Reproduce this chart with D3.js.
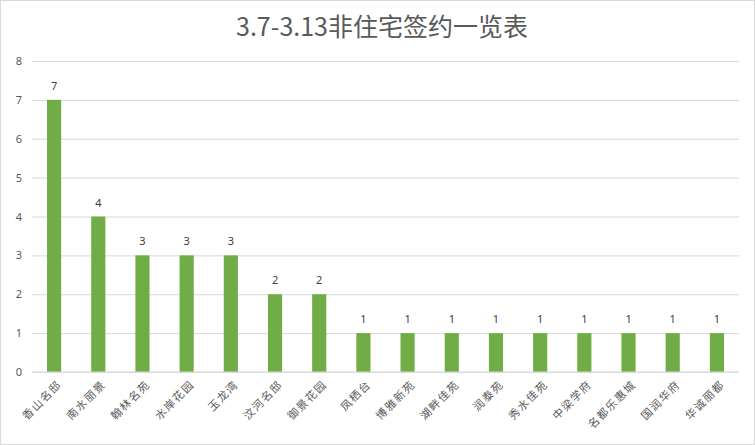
<!DOCTYPE html>
<html>
<head>
<meta charset="utf-8">
<script src="https://cdn.jsdelivr.net/npm/d3@7"></script>
<style>
  body { margin: 0; background: #fff; }
  #container { width: 755px; height: 445px; position: relative; }
  text { font-family: "Noto Sans CJK SC", "Noto Sans", sans-serif; }
</style>
</head>
<body>
<div id="container"></div>
<script>
const projects = ["香山名邸", "南水丽景", "翰林名苑", "水岸花园", "玉龙湾", "汶河名邸", "御景花园", "凤栖台",
                  "博雅新苑", "湖畔佳苑", "润泰苑", "秀水佳苑", "中梁学府", "名都乐惠城", "国润华府", "华诚丽都"];
const signed = [7, 4, 3, 3, 3, 2, 2, 1, 1, 1, 1, 1, 1, 1, 1, 1];
const yTicks = [0, 1, 2, 3, 4, 5, 6, 7, 8];

const width = 755, height = 445;
const margin = { top: 61, right: 16, bottom: 73, left: 32 };
const chartWidth = width - margin.left - margin.right;
const chartHeight = height - margin.top - margin.bottom;

const svg = d3.select("#container").append("svg")
              .attr("width", width)
              .attr("height", height);

svg.append("rect")
   .attr("x", 0.5).attr("y", 0.5)
   .attr("width", width - 1).attr("height", height - 1)
   .attr("fill", "#fff")
   .attr("stroke", "#d9d9d9");

svg.append("text")
   .attr("x", 382).attr("y", 36)
   .attr("text-anchor", "middle")
   .style("font-size", "25px")
   .style("fill", "#595959")
   .text("3.7-3.13非住宅签约一览表");

const xScale = d3.scaleBand().domain(projects).range([0, chartWidth]).paddingInner(0.68).paddingOuter(0.34);
const yScale = d3.scaleLinear().domain([0, 8]).range([chartHeight, 0]);

const plot = svg.append("g").attr("transform", "translate(" + margin.left + "," + margin.top + ")");

// gridlines
plot.append("g")
    .call(d3.axisLeft(yScale).tickValues(yTicks).tickSize(-chartWidth).tickFormat(""))
    .call(g => g.select(".domain").remove())
    .selectAll("line")
    .attr("stroke", "#d9d9d9");

// y tick labels
const yAxis = plot.append("g")
    .call(d3.axisLeft(yScale).tickValues(yTicks).tickSize(0).tickPadding(10));
yAxis.select(".domain").remove();
yAxis.selectAll("text").style("font-size", "11px").style("fill", "#595959").style("font-family", "\"Noto Sans\", sans-serif");

// bars
plot.selectAll(".bar")
    .data(signed)
    .join("rect")
    .attr("class", "bar")
    .attr("x", (d, i) => xScale(projects[i]))
    .attr("y", d => yScale(d))
    .attr("width", xScale.bandwidth())
    .attr("height", d => chartHeight - yScale(d))
    .attr("fill", "#70ad47");

// value labels
plot.selectAll(".val")
    .data(signed)
    .join("text")
    .attr("class", "val")
    .attr("x", (d, i) => xScale(projects[i]) + xScale.bandwidth() / 2)
    .attr("y", d => yScale(d) - 10)
    .attr("text-anchor", "middle")
    .style("font-size", "11px")
    .style("fill", "#404040")
    .style("font-family", "\"Noto Sans\", sans-serif")
    .text(d => d);

// baseline
plot.append("line")
    .attr("x1", 0).attr("x2", chartWidth)
    .attr("y1", chartHeight).attr("y2", chartHeight)
    .attr("stroke", "#d9d9d9");

// x labels
const xAxis = plot.append("g")
    .attr("transform", "translate(0," + chartHeight + ")")
    .call(d3.axisBottom(xScale).tickSize(0));
xAxis.select(".domain").remove();
xAxis.selectAll("text")
     .style("text-anchor", "end")
     .style("font-size", "11px")
     .style("letter-spacing", "1.5px")
     .style("fill", "#595959")
     .attr("dx", "0.4em")
     .attr("dy", "0.4em")
     .attr("transform", "translate(0,11) rotate(-45)");
</script>
</body>
</html>
